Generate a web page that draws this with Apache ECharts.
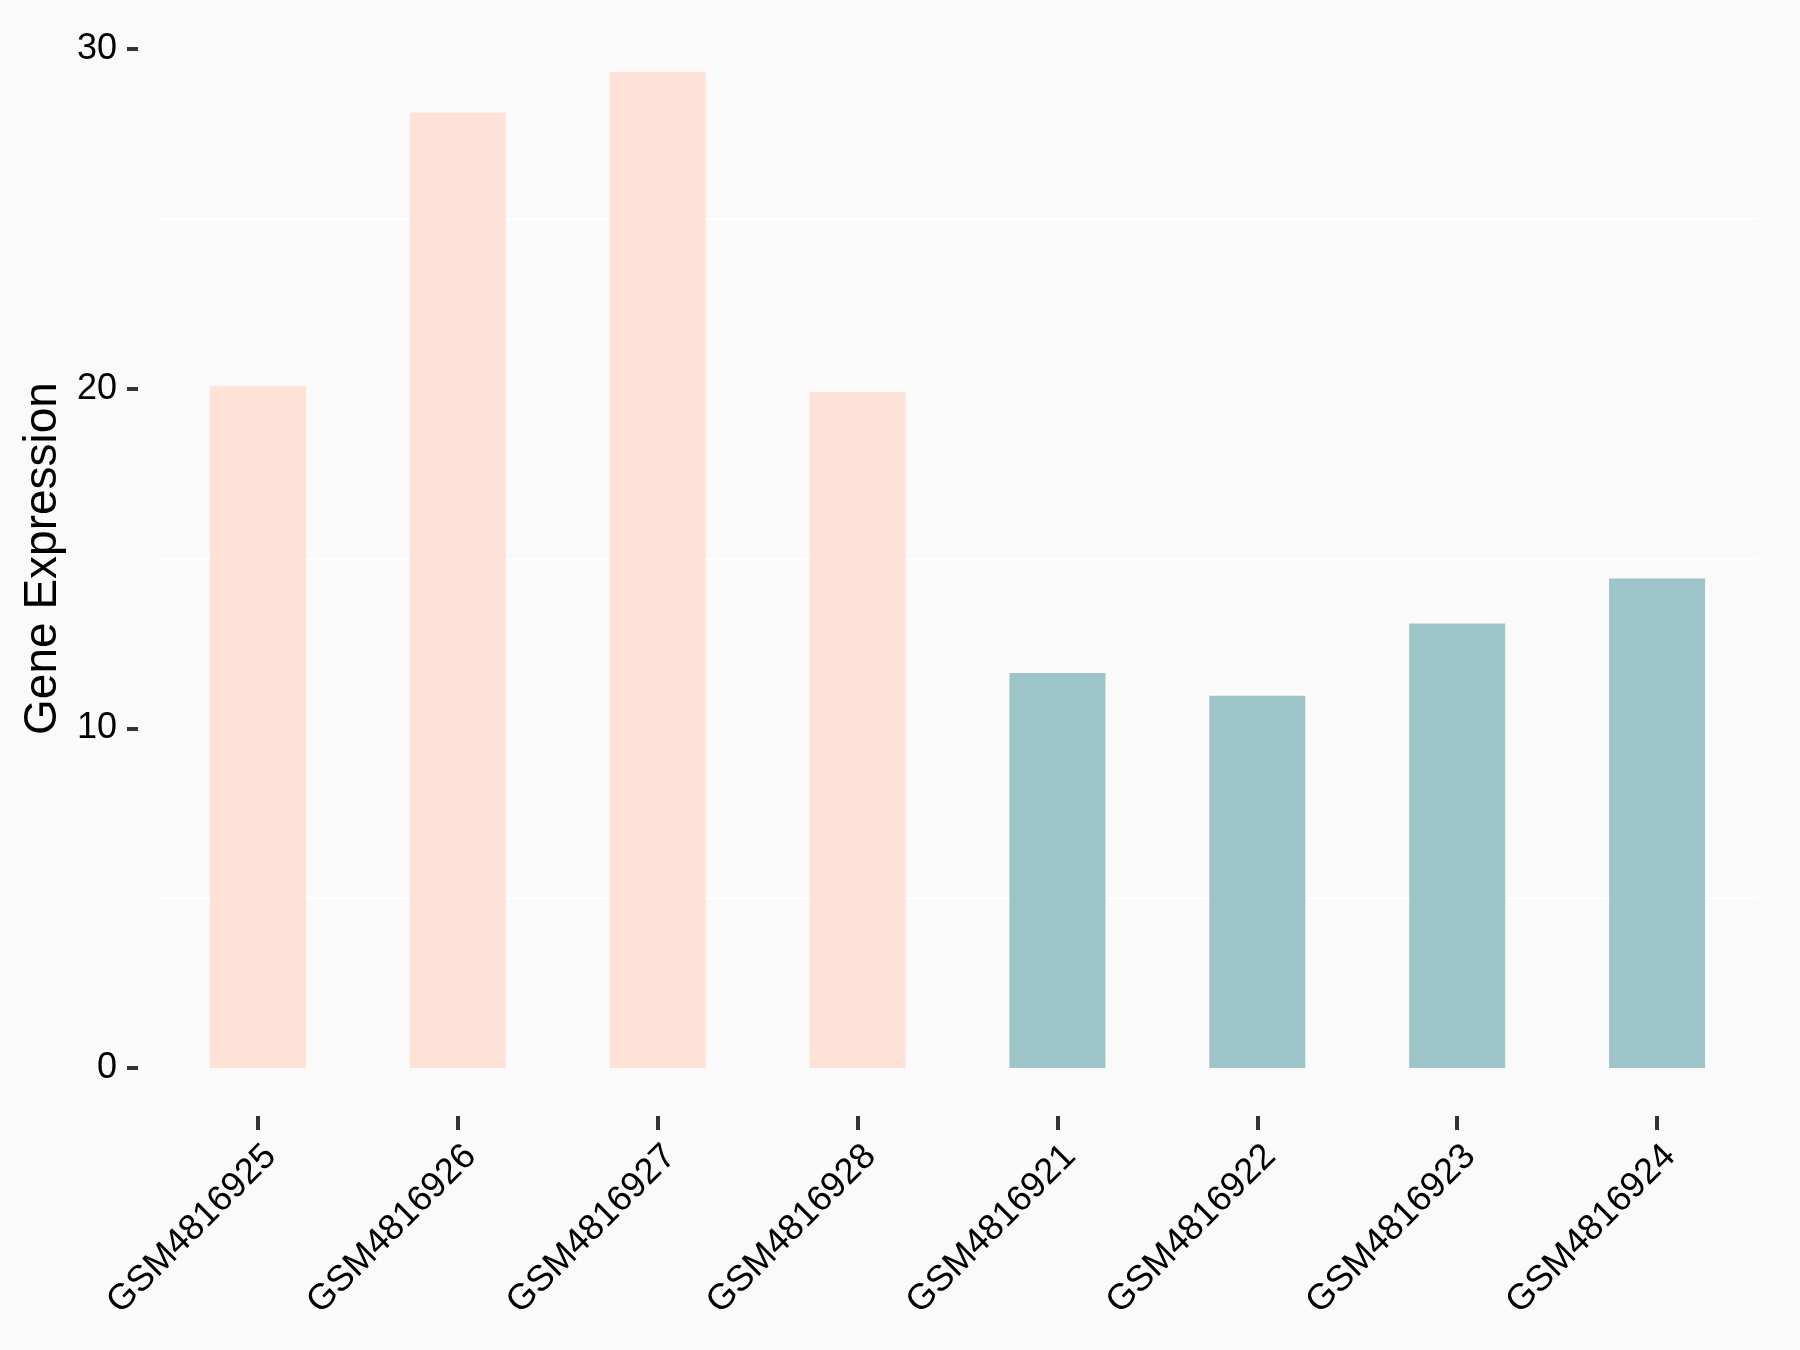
<!DOCTYPE html>
<html>
<head>
<meta charset="utf-8">
<script src="https://cdn.jsdelivr.net/npm/echarts@6/dist/echarts.min.js"></script>
<style>
  html, body { margin: 0; padding: 0; background: #fafafa; }
  #chart { width: 1800px; height: 1350px; }
</style>
</head>
<body>
<div id="chart"></div>
<script>
const samples = ["GSM4816925", "GSM4816926", "GSM4816927", "GSM4816928",
                 "GSM4816921", "GSM4816922", "GSM4816923", "GSM4816924"];
const expression = [20.07, 28.13, 29.33, 19.9, 11.63, 10.96, 13.09, 14.41];
const groupColors = ["#fee1d7", "#fee1d7", "#fee1d7", "#fee1d7",
                     "#9dc4c8", "#9dc4c8", "#9dc4c8", "#9dc4c8"];

const font = "Liberation Sans, Arial, sans-serif";
const chart = echarts.init(document.getElementById("chart"));

chart.setOption({
  backgroundColor: "#fafafa",
  animation: false,
  grid: {
    left: 158, right: 43, top: 49, bottom: 282,
    containLabel: false,
    outerBoundsMode: "none"
  },
  xAxis: {
    type: "category",
    data: samples,
    offset: 48,
    axisLine: { show: false, onZero: false },
    axisTick: { show: true, alignWithLabel: true, length: 14, lineStyle: { color: "#333", width: 4 } },
    axisLabel: {
      rotate: 45, margin: 22, color: "#000",
      align: "right", verticalAlign: "top",
      fontFamily: font, fontSize: 36
    },
    splitLine: { show: false }
  },
  yAxis: {
    type: "value",
    min: 0, max: 30, interval: 10,
    offset: 20,
    name: "Gene Expression",
    nameLocation: "middle",
    nameRotate: 90,
    nameGap: 72,
    nameTextStyle: { color: "#000", fontFamily: font, fontSize: 46 },
    axisLine: { show: false, onZero: false },
    axisTick: { show: true, length: 11, lineStyle: { color: "#333", width: 4 } },
    axisLabel: { color: "#000", margin: 21, fontFamily: font, fontSize: 36 },
    splitLine: { show: false },
    minorTick: { show: false, splitNumber: 2 },
    minorSplitLine: { show: true, lineStyle: { color: "#ffffff", width: 2 } }
  },
  series: [{
    type: "bar",
    barWidth: 96,
    data: expression.map((v, i) => ({ value: v, itemStyle: { color: groupColors[i] } }))
  }]
});

window.addEventListener("resize", () => chart.resize());
</script>
</body>
</html>
